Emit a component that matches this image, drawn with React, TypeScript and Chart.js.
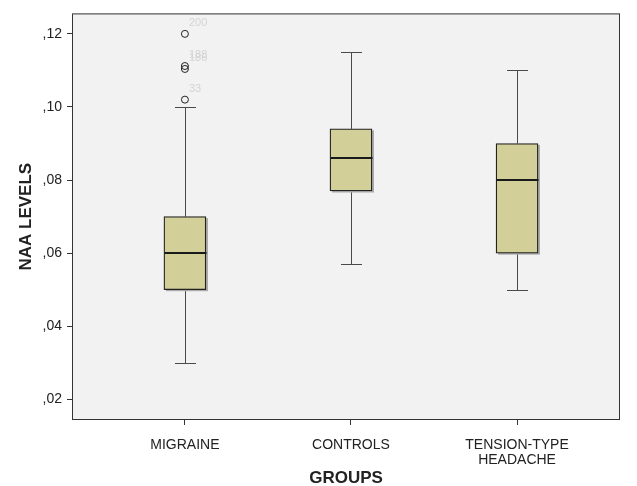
import React, { useEffect, useRef } from "react";
import { Chart, registerables } from "chart.js";

Chart.register(...registerables);

// ---- data ----
const categories = ["MIGRAINE", "CONTROLS", "TENSION-TYPE HEADACHE"];
const categoryLabels: (string | string[])[] = ["MIGRAINE", "CONTROLS", ["TENSION-TYPE", "HEADACHE"]];
const whiskerLow = [0.03, 0.057, 0.05];
const q1 = [0.05, 0.077, 0.06];
const median = [0.06, 0.086, 0.08];
const q3 = [0.07, 0.094, 0.09];
const whiskerHigh = [0.1, 0.115, 0.11];
const outlierGroup = [0, 0, 0, 0];
const outlierValues = [0.12, 0.1112, 0.1104, 0.102];
const outlierIds = ["200", "188", "186", "33"];
const yTickValues = [0.02, 0.04, 0.06, 0.08, 0.1, 0.12];
const yTickLabels = [",02", ",04", ",06", ",08", ",10", ",12"];

// ---- styles ----
const FONT = "'Liberation Sans', Arial, sans-serif";
const BOX_FILL = "#D3CF98";
const BOX_PX = 42;
const CAP_PX = 21;

const decorPlugin = {
  id: "decor",
  beforeDraw(chart: any) {
    const { ctx, chartArea: a } = chart;
    ctx.save();
    ctx.fillStyle = "#F2F2F2";
    ctx.fillRect(a.left, a.top, a.right - a.left, a.bottom - a.top);
    ctx.restore();
  },
  beforeDatasetsDraw(chart: any) {
    const { ctx } = chart;
    const x = chart.scales.x;
    const y = chart.scales.y;
    ctx.save();
    ctx.strokeStyle = "#4a4a4a";
    ctx.lineWidth = 1;
    categories.forEach((_, i) => {
      const cx = Math.round(x.getPixelForValue(i)) + 0.5;
      const yl = Math.round(y.getPixelForValue(whiskerLow[i])) + 0.5;
      const yh = Math.round(y.getPixelForValue(whiskerHigh[i])) + 0.5;
      const y1 = y.getPixelForValue(q1[i]);
      const y3 = y.getPixelForValue(q3[i]);
      ctx.beginPath();
      ctx.moveTo(cx, y3);
      ctx.lineTo(cx, yh);
      ctx.moveTo(cx, y1);
      ctx.lineTo(cx, yl);
      ctx.moveTo(cx - CAP_PX / 2, yh);
      ctx.lineTo(cx + CAP_PX / 2, yh);
      ctx.moveTo(cx - CAP_PX / 2, yl);
      ctx.lineTo(cx + CAP_PX / 2, yl);
      ctx.stroke();
      ctx.fillStyle = "#ABABAB";
      ctx.fillRect(cx - BOX_PX / 2 + 1.5, y3 + 1.5, BOX_PX, y1 - y3);
    });
    ctx.restore();
  },
  afterDatasetsDraw(chart: any) {
    const { ctx } = chart;
    const x = chart.scales.x;
    const y = chart.scales.y;
    ctx.save();
    ctx.strokeStyle = "#1a1a1a";
    ctx.lineWidth = 2;
    categories.forEach((_, i) => {
      const cx = Math.round(x.getPixelForValue(i)) + 0.5;
      const ym = Math.round(y.getPixelForValue(median[i]));
      ctx.beginPath();
      ctx.moveTo(cx - BOX_PX / 2, ym);
      ctx.lineTo(cx + BOX_PX / 2, ym);
      ctx.stroke();
    });
    ctx.fillStyle = "#D4D4D4";
    ctx.font = `11px ${FONT}`;
    ctx.textBaseline = "middle";
    ctx.textAlign = "left";
    outlierValues.forEach((v, k) => {
      const px = x.getPixelForValue(outlierGroup[k]);
      const py = y.getPixelForValue(v);
      ctx.fillText(outlierIds[k], px + 4, py - 11);
    });
    ctx.restore();
  },
  afterDraw(chart: any) {
    const { ctx, chartArea: a } = chart;
    ctx.save();
    ctx.strokeStyle = "#333";
    ctx.lineWidth = 1;
    ctx.strokeRect(a.left + 0.5, a.top + 0.5, a.right - a.left - 1, a.bottom - a.top - 1);
    ctx.restore();
  },
};

export default function App() {
  const ref = useRef<HTMLCanvasElement | null>(null);
  useEffect(() => {
    if (!ref.current) return;
    const chart = new Chart(ref.current, {
      type: "bar",
      data: {
        datasets: [
          {
            type: "bar",
            data: categories.map((_, i) => ({ x: i, y: [q1[i], q3[i]] })) as any,
            backgroundColor: BOX_FILL,
            borderColor: "#222",
            borderWidth: 1.3,
            borderSkipped: false,
            barThickness: BOX_PX,
          } as any,
          {
            type: "scatter",
            data: outlierValues.map((v, k) => ({ x: outlierGroup[k], y: v })),
            pointRadius: 3.5,
            pointBackgroundColor: "rgba(0,0,0,0)",
            pointBorderColor: "#222",
            pointBorderWidth: 1,
          } as any,
        ],
      },
      options: {
        responsive: false,
        animation: false,
        devicePixelRatio: 1,
        layout: { padding: { top: 12, right: 17, left: 0, bottom: 0 } },
        plugins: { legend: { display: false }, tooltip: { enabled: false } },
        scales: {
          x: {
            type: "linear",
            min: -0.68,
            max: 2.62,
            offset: false,
            grid: { display: true, offset: false, drawOnChartArea: false, drawTicks: true, tickLength: 5, color: "#333" },
            border: { display: false },
            afterBuildTicks: (s: any) => {
              s.ticks = categories.map((_, i) => ({ value: i }));
            },
            afterFit: (s: any) => {
              s.height = 66;
            },
            ticks: {
              autoSkip: false,
              maxRotation: 0,
              padding: 12,
              color: "#222",
              font: { family: FONT, size: 14, lineHeight: 1.1 },
              callback: (_v: any, i: number) => categoryLabels[i],
            },
            title: {
              display: true,
              text: "GROUPS",
              color: "#222",
              font: { family: FONT, size: 17, weight: "bold" },
              padding: { top: 0, bottom: -3 },
            },
          },
          y: {
            type: "linear",
            min: 0.01435,
            max: 0.1256,
            grid: { display: true, drawOnChartArea: false, drawTicks: true, tickLength: 5, color: "#333" },
            border: { display: false },
            afterBuildTicks: (s: any) => {
              s.ticks = yTickValues.map((v) => ({ value: v }));
            },
            afterFit: (s: any) => {
              s.width = 72;
            },
            ticks: {
              padding: 5,
              color: "#222",
              font: { family: FONT, size: 14 },
              callback: (_v: any, i: number) => yTickLabels[i],
            },
            title: {
              display: true,
              text: "NAA LEVELS",
              color: "#222",
              font: { family: FONT, size: 17, weight: "bold" },
              padding: { top: 16, bottom: 0 },
            },
          },
        },
      },
      plugins: [decorPlugin],
    } as any);
    return () => chart.destroy();
  }, []);
  return (
    <div style={{ position: "fixed", left: 0, top: 0, width: 637, height: 486, background: "#fff" }}>
      <canvas ref={ref} width={637} height={486} style={{ width: 637, height: 486 }} />
    </div>
  );
}
